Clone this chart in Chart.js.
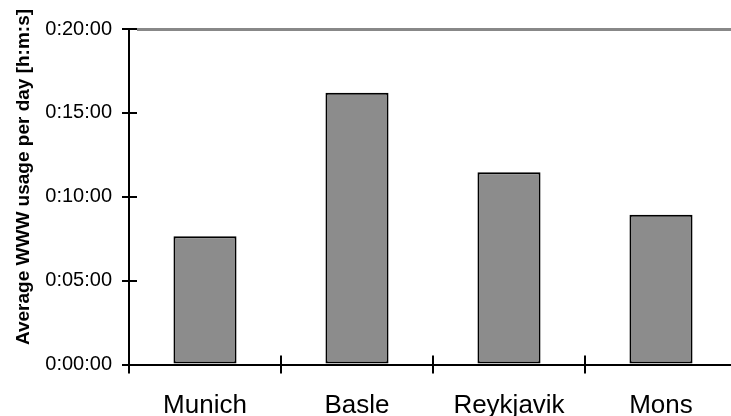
<!DOCTYPE html>
<html>
<head>
  <meta charset="utf-8">
  <title>WWW usage</title>
  <script src="https://cdn.jsdelivr.net/npm/chart.js"></script>
  <style>
    * { margin: 0; padding: 0; box-sizing: border-box; }
    html, body { width: 731px; height: 416px; overflow: hidden; background: #fff; }
    #wrap { width: 737px; height: 416px; position: relative; }
  </style>
</head>
<body>
  <div id="wrap"><canvas id="grafik"></canvas></div>
  <script>
    // data (minutes per day)
    const cities = ["Munich", "Basle", "Reykjavik", "Mons"];
    const usageMinutes = [7.65, 16.2, 11.46, 8.92];
    const yTicks = [0, 5, 10, 15, 20];
    const yMax = 20;
    const yTitle = "Average WWW usage per day [h:m:s]";

    const FONT = "'Liberation Sans', Arial, sans-serif";

    function fmt(min) {
      const h = Math.floor(min / 60);
      const m = Math.floor(min % 60);
      return h + ":" + String(m).padStart(2, "0") + ":00";
    }

    // grey line at the top, tick stubs on the inside of both axes, rotated axis title
    const extras = {
      id: "extras",
      afterDraw(chart) {
        const c = chart.ctx;
        const a = chart.chartArea;
        const x = chart.scales.x, y = chart.scales.y;
        c.save();
        c.setLineDash([]);
        c.lineDashOffset = 0;
        c.globalAlpha = 1;
        c.globalCompositeOperation = "source-over";
        c.lineWidth = 3;
        const top = Math.round(y.getPixelForValue(yMax)) + 0.5;
        c.strokeStyle = "#888888";
        c.beginPath(); c.moveTo(a.left + 8, top); c.lineTo(a.right, top); c.stroke();

        c.lineWidth = 2;
        c.strokeStyle = "#000";
        yTicks.forEach(v => {
          const py = Math.round(y.getPixelForValue(v));
          c.beginPath(); c.moveTo(a.left, py); c.lineTo(a.left + 8, py); c.stroke();
        });
        for (let i = 0; i <= cities.length; i++) {
          const px = Math.round(x.getPixelForValue(i - 0.5));
          c.beginPath(); c.moveTo(px, a.bottom); c.lineTo(px, a.bottom - 9); c.stroke();
        }
        c.translate(24, 177);
        c.rotate(-Math.PI / 2);
        c.fillStyle = "#000";
        c.font = "bold 19px " + FONT;
        c.textAlign = "center";
        c.textBaseline = "middle";
        c.fillText(yTitle, 0, 0);
        c.restore();
      }
    };

    new Chart(document.getElementById("grafik"), {
      type: "bar",
      data: {
        labels: cities,
        datasets: [{
          data: usageMinutes,
          backgroundColor: "#8c8c8c",
          borderColor: "#000",
          borderWidth: 2,
          borderSkipped: false,
          categoryPercentage: 1,
          barPercentage: 0.415
        }]
      },
      options: {
        responsive: true,
        maintainAspectRatio: false,
        animation: false,
        layout: { padding: { top: 29, right: 0, bottom: 0, left: 0 } },
        plugins: { legend: { display: false }, tooltip: { enabled: false } },
        scales: {
          x: {
            offset: true,
            grid: {
              offset: true,
              drawOnChartArea: false,
              color: "#000",
              tickColor: "#000",
              tickLength: 9,
              lineWidth: 2
            },
            border: { display: true, color: "#000", width: 2 },
            ticks: { color: "#000", padding: 17, font: { family: FONT, size: 26 } },
            afterFit(s) { s.height = 51.5; }
          },
          y: {
            min: 0,
            max: yMax,
            grid: {
              color: c => (c.index === yTicks.length - 1 ? "#888888" : "rgba(255,255,255,0)"),
              tickColor: "#000",
              tickLength: 7,
              lineWidth: 2
            },
            border: { display: true, color: "#000", width: 2 },
            ticks: {
              stepSize: 5,
              color: "#000",
              padding: 10,
              font: { family: FONT, size: 20 },
              callback: v => fmt(v)
            },
            afterFit(s) { s.width = 129; }
          }
        }
      },
      plugins: [extras]
    });
  </script>
</body>
</html>
